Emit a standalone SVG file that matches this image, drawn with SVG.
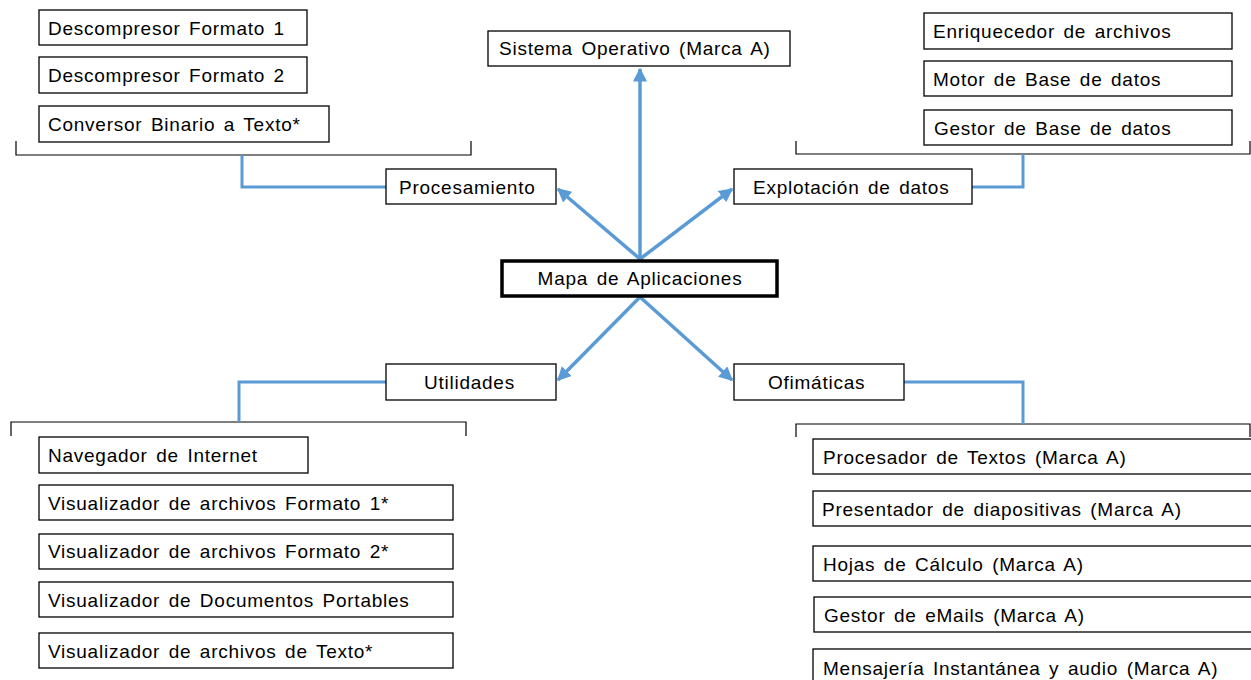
<svg xmlns="http://www.w3.org/2000/svg" width="1251" height="680" viewBox="0 0 1251 680">
<style>
.b{fill:#fff;stroke:#000;stroke-width:1.3}
.m{fill:#fff;stroke:#000;stroke-width:3.5}
.t{font-family:"Liberation Sans",Arial,sans-serif;font-size:19px;fill:#000;letter-spacing:0.75px;word-spacing:2.5px}
.br{fill:none;stroke:#000;stroke-width:1.2}
.c{fill:none;stroke:#5B9BD5;stroke-width:3}
.a{fill:none;stroke:#5B9BD5;stroke-width:3.5;marker-end:url(#ah)}
</style>
<defs>
<marker id="ah" viewBox="0 0 10 10" refX="9" refY="5" markerWidth="4" markerHeight="4" orient="auto" markerUnits="strokeWidth">
<path d="M0,0 L10,5 L0,10 z" fill="#5B9BD5"/>
</marker>
</defs>
<rect width="1251" height="680" fill="#fff"/>
<g id="connectors">
<path class="br" d="M16,141 V155 H471 V141"/>
<path class="br" d="M796,141 V154 H1250 V141"/>
<path class="br" d="M11,436 V422 H466 V436"/>
<path class="br" d="M796,437 V424 H1250 V437"/>
<path class="c" d="M242,155 V187 H386"/>
<path class="c" d="M972,187 H1023 V154"/>
<path class="c" d="M386,382 H239 V422"/>
<path class="c" d="M904,382 H1023 V424"/>
<line class="a" x1="640" y1="259" x2="640" y2="69"/>
<line class="a" x1="640" y1="259" x2="558" y2="189"/>
<line class="a" x1="640" y1="259" x2="732" y2="189"/>
<line class="a" x1="640" y1="297" x2="558" y2="380"/>
<line class="a" x1="640" y1="297" x2="732" y2="380"/>
</g>
<g id="mapa"><rect class="m" x="502" y="261" width="275" height="35"/><text class="t" x="640" y="285" text-anchor="middle">Mapa de Aplicaciones</text></g>
<g id="so"><rect class="b" x="488" y="31" width="302" height="35"/><text class="t" x="499" y="55">Sistema Operativo (Marca A)</text></g>
<g id="procesamiento"><rect class="b" x="386" y="169" width="170" height="35"/><text class="t" x="399" y="194">Procesamiento</text></g>
<g id="explotacion"><rect class="b" x="734" y="169" width="238" height="35"/><text class="t" x="753" y="194">Explotación de datos</text></g>
<g id="utilidades"><rect class="b" x="386" y="364" width="170" height="36"/><text class="t" x="424" y="389">Utilidades</text></g>
<g id="ofimaticas"><rect class="b" x="734" y="364" width="170" height="36"/><text class="t" x="768" y="389">Ofimáticas</text></g>
<g id="desc1"><rect class="b" x="39" y="10" width="268" height="35"/><text class="t" x="48" y="35">Descompresor Formato 1</text></g>
<g id="desc2"><rect class="b" x="39" y="57" width="268" height="36"/><text class="t" x="48" y="82">Descompresor Formato 2</text></g>
<g id="conv"><rect class="b" x="39" y="106" width="290" height="36"/><text class="t" x="48" y="131">Conversor Binario a Texto*</text></g>
<g id="enriq"><rect class="b" x="924" y="13" width="308" height="36"/><text class="t" x="933" y="38">Enriquecedor de archivos</text></g>
<g id="motor"><rect class="b" x="924" y="61" width="308" height="35"/><text class="t" x="933" y="86">Motor de Base de datos</text></g>
<g id="gestorbd"><rect class="b" x="924" y="110" width="308" height="35"/><text class="t" x="934" y="135">Gestor de Base de datos</text></g>
<g id="nav"><rect class="b" x="39" y="437" width="269" height="36"/><text class="t" x="48" y="462">Navegador de Internet</text></g>
<g id="vis1"><rect class="b" x="39" y="485" width="414" height="35"/><text class="t" x="48" y="510">Visualizador de archivos Formato 1*</text></g>
<g id="vis2"><rect class="b" x="39" y="534" width="414" height="35"/><text class="t" x="48" y="558">Visualizador de archivos Formato 2*</text></g>
<g id="visdoc"><rect class="b" x="39" y="582" width="414" height="35"/><text class="t" x="48" y="607">Visualizador de Documentos Portables</text></g>
<g id="vistxt"><rect class="b" x="39" y="633" width="414" height="35"/><text class="t" x="48" y="658">Visualizador de archivos de Texto*</text></g>
<g id="proctxt"><rect class="b" x="813" y="439" width="445" height="35"/><text class="t" x="823" y="464">Procesador de Textos (Marca A)</text></g>
<g id="present"><rect class="b" x="813" y="491" width="445" height="35"/><text class="t" x="822" y="516">Presentador de diapositivas (Marca A)</text></g>
<g id="hojas"><rect class="b" x="813" y="546" width="445" height="35"/><text class="t" x="823" y="571">Hojas de Cálculo (Marca A)</text></g>
<g id="emails"><rect class="b" x="814" y="597" width="445" height="35"/><text class="t" x="824" y="622">Gestor de eMails (Marca A)</text></g>
<g id="mensa"><rect class="b" x="813" y="649" width="445" height="40"/><text class="t" x="823" y="675">Mensajería Instantánea y audio (Marca A)</text></g>
</svg>
